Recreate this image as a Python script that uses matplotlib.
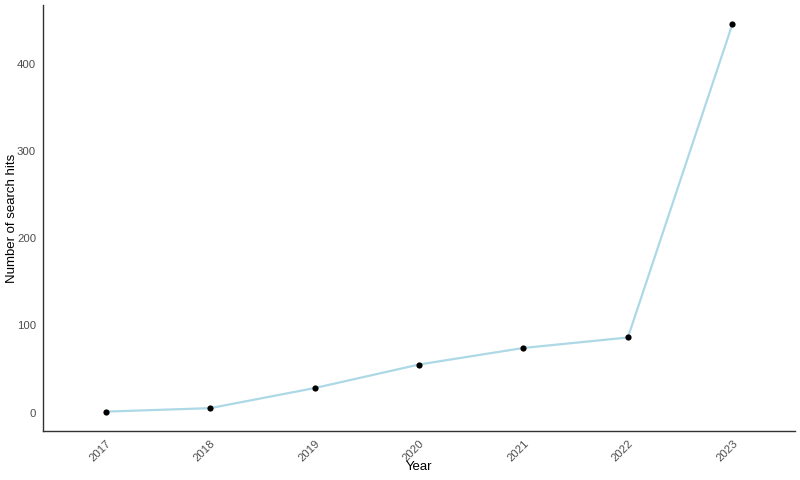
import matplotlib
matplotlib.use("Agg")
import matplotlib.pyplot as plt

years = ["2017", "2018", "2019", "2020", "2021", "2022", "2023"]
hits = [1, 5, 28, 55, 74, 86, 445]

plt.rcParams['font.family'] = ['Liberation Sans', 'DejaVu Sans']

fig = plt.figure(figsize=(8, 4.8), dpi=100)
L, R, T, B = 43, 795, 5, 431
ax = fig.add_axes([L/800, 1 - B/480, (R - L)/800, (B - T)/480])

x = list(range(len(years)))
ax.plot(x, hits, color='#ADD8E6', linewidth=1.6, zorder=2)
ax.scatter(x, hits, color='black', s=20, zorder=3, linewidths=0)

n = len(years)
ax.set_xlim(-0.6, n - 1 + 0.6)
lo, hi = min(hits), max(hits)
pad = (hi - lo) * 0.05
ax.set_ylim(lo - pad, hi + pad)

ax.set_xticks(x)
ax.set_xticklabels(years, rotation=45, ha='right', va='top', rotation_mode='anchor')
ax.set_yticks([0, 100, 200, 300, 400])
ax.tick_params(axis='both', length=0, labelsize=8.2, labelcolor='#4D4D4D')
ax.tick_params(axis='x', pad=5)
ax.tick_params(axis='y', pad=5)

for side in ['top', 'right']:
    ax.spines[side].set_visible(False)
for side in ['left', 'bottom']:
    ax.spines[side].set_color('#333333')
    ax.spines[side].set_linewidth(1.0)

ax.set_xlabel('Year', fontsize=9.5, color='black')
ax.set_ylabel('Number of search hits', fontsize=9.5, color='black')
ax.xaxis.set_label_coords(0.5, (B - 461) / (B - T))
ax.xaxis.label.set_va('top')
ax.yaxis.set_label_coords((18 - L) / (R - L), 0.5)

fig.savefig('out.png', dpi=100, facecolor='white')
